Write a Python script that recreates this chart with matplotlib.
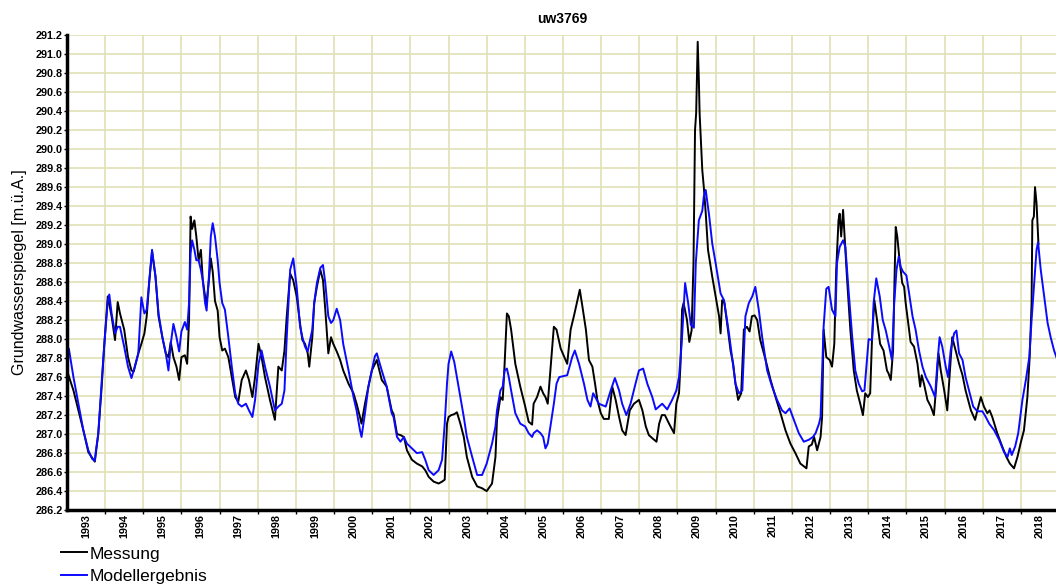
import numpy as np
import matplotlib
matplotlib.use("Agg")
import matplotlib.pyplot as plt
from matplotlib.ticker import MultipleLocator, FixedLocator, NullFormatter

plt.rcParams['font.family'] = ['Liberation Sans', 'DejaVu Sans']

# Messung (Zeit in Dezimaljahren, Wasserstand m.ü.A.)
mess_t = [1993.00, 1993.17, 1993.43, 1993.56, 1993.73, 1993.82, 1993.91, 1993.98, 1994.07, 1994.17,
          1994.26, 1994.33, 1994.39, 1994.50, 1994.60, 1994.69, 1994.75, 1994.87, 1994.95, 1995.03,
          1995.09, 1995.16, 1995.23, 1995.32, 1995.40, 1995.50, 1995.59, 1995.66, 1995.72, 1995.79,
          1995.87, 1995.94, 1996.00, 1996.09, 1996.15, 1996.20, 1996.24, 1996.28, 1996.34, 1996.39,
          1996.45, 1996.51, 1996.56, 1996.62, 1996.66, 1996.72, 1996.77, 1996.82, 1996.88, 1996.95,
          1997.00, 1997.07, 1997.14, 1997.23, 1997.32, 1997.41, 1997.49, 1997.58, 1997.69, 1997.77,
          1997.86, 1997.93, 1998.02, 1998.10, 1998.19, 1998.32, 1998.45, 1998.54, 1998.63, 1998.70,
          1998.76, 1998.85, 1998.93, 1999.02, 1999.11, 1999.17, 1999.24, 1999.31, 1999.35, 1999.43,
          1999.48, 1999.55, 1999.64, 1999.71, 1999.77, 1999.85, 1999.92, 1999.98, 2000.07, 2000.16,
          2000.24, 2000.38, 2000.51, 2000.59, 2000.68, 2000.72, 2000.81, 2000.90, 2000.99, 2001.12,
          2001.25, 2001.38, 2001.51, 2001.56, 2001.65, 2001.74, 2001.83, 2001.91, 2002.04, 2002.17,
          2002.31, 2002.39, 2002.48, 2002.61, 2002.74, 2002.83, 2002.90, 2002.96, 2003.00, 2003.07,
          2003.15, 2003.22, 2003.31, 2003.40, 2003.48, 2003.62, 2003.75, 2003.88, 2004.00, 2004.14,
          2004.23, 2004.27, 2004.36, 2004.42, 2004.47, 2004.53, 2004.58, 2004.64, 2004.75, 2004.88,
          2005.01, 2005.10, 2005.19, 2005.23, 2005.32, 2005.41, 2005.48, 2005.54, 2005.60, 2005.67,
          2005.76, 2005.83, 2005.94, 2006.11, 2006.20, 2006.29, 2006.38, 2006.44, 2006.51, 2006.60,
          2006.68, 2006.77, 2006.84, 2006.90, 2006.99, 2007.07, 2007.20, 2007.29, 2007.38, 2007.47,
          2007.55, 2007.64, 2007.75, 2007.86, 2007.99, 2008.08, 2008.17, 2008.25, 2008.36, 2008.45,
          2008.52, 2008.59, 2008.67, 2008.78, 2008.91, 2008.97, 2009.04, 2009.08, 2009.12, 2009.16,
          2009.25, 2009.31, 2009.37, 2009.42, 2009.46, 2009.49, 2009.53, 2009.56, 2009.58, 2009.65,
          2009.69, 2009.74, 2009.80, 2009.91, 2010.00, 2010.09, 2010.13, 2010.17, 2010.23, 2010.30,
          2010.39, 2010.46, 2010.52, 2010.59, 2010.67, 2010.74, 2010.82, 2010.89, 2010.95, 2011.02,
          2011.09, 2011.17, 2011.31, 2011.44, 2011.57, 2011.70, 2011.83, 2011.96, 2012.09, 2012.22,
          2012.38, 2012.44, 2012.52, 2012.58, 2012.66, 2012.75, 2012.79, 2012.83, 2012.90, 2012.99,
          2013.05, 2013.11, 2013.16, 2013.22, 2013.25, 2013.29, 2013.34, 2013.37, 2013.44, 2013.53,
          2013.62, 2013.70, 2013.79, 2013.86, 2013.92, 2013.99, 2014.05, 2014.10, 2014.16, 2014.23,
          2014.31, 2014.40, 2014.49, 2014.53, 2014.59, 2014.65, 2014.69, 2014.72, 2014.76, 2014.82,
          2014.89, 2014.94, 2014.98, 2015.05, 2015.11, 2015.20, 2015.29, 2015.36, 2015.40, 2015.46,
          2015.55, 2015.64, 2015.72, 2015.78, 2015.84, 2015.90, 2015.99, 2016.07, 2016.13, 2016.20,
          2016.29, 2016.38, 2016.47, 2016.55, 2016.69, 2016.80, 2016.86, 2016.95, 2017.03, 2017.12,
          2017.18, 2017.25, 2017.38, 2017.51, 2017.62, 2017.71, 2017.82, 2017.91, 2017.99, 2018.08,
          2018.17, 2018.23, 2018.28, 2018.30, 2018.34, 2018.37, 2018.41, 2018.44, 2018.46]
mess_v = [287.67, 287.46, 287.04, 286.81, 286.71, 287.00, 287.50, 287.95, 288.45, 288.24,
          287.99, 288.39, 288.27, 288.10, 287.81, 287.67, 287.66, 287.85, 287.95, 288.06,
          288.24, 288.62, 288.92, 288.66, 288.24, 288.02, 287.85, 287.81, 287.97, 287.81,
          287.71, 287.57, 287.81, 287.83, 287.74, 288.20, 289.29, 289.16, 289.25, 289.08,
          288.83, 288.94, 288.62, 288.45, 288.38, 288.62, 288.85, 288.71, 288.40, 288.30,
          288.02, 287.88, 287.90, 287.81, 287.60, 287.39, 287.34, 287.57, 287.67, 287.57,
          287.39, 287.60, 287.95, 287.81, 287.60, 287.36, 287.15, 287.71, 287.67, 287.88,
          288.24, 288.69, 288.62, 288.45, 288.16, 287.99, 287.95, 287.85, 287.71, 288.02,
          288.38, 288.55, 288.73, 288.62, 288.31, 287.85, 288.02, 287.95, 287.87, 287.78,
          287.67, 287.53, 287.43, 287.32, 287.18, 287.11, 287.32, 287.50, 287.67, 287.78,
          287.57, 287.50, 287.25, 287.21, 287.00, 286.99, 286.97, 286.83, 286.73, 286.69,
          286.66, 286.62, 286.55, 286.50, 286.48, 286.50, 286.52, 287.11, 287.18, 287.20,
          287.21, 287.23, 287.11, 286.97, 286.76, 286.55, 286.45, 286.43, 286.40, 286.48,
          286.76, 287.15, 287.39, 287.36, 287.74, 288.27, 288.24, 288.10, 287.74, 287.50,
          287.29, 287.13, 287.10, 287.32, 287.39, 287.50, 287.43, 287.39, 287.32, 287.67,
          288.13, 288.10, 287.90, 287.74, 288.10, 288.25, 288.41, 288.52, 288.34, 288.10,
          287.78, 287.71, 287.53, 287.36, 287.22, 287.16, 287.16, 287.50, 287.36, 287.18,
          287.04, 286.99, 287.25, 287.32, 287.36, 287.25, 287.08, 286.99, 286.95, 286.92,
          287.11, 287.20, 287.20, 287.11, 287.01, 287.32, 287.43, 287.74, 288.31, 288.38,
          288.20, 287.97, 288.09, 288.80, 290.20, 290.38, 291.13, 290.73, 290.38, 289.78,
          289.60, 289.33, 288.94, 288.66, 288.45, 288.24, 288.06, 288.41, 288.38, 288.17,
          287.88, 287.74, 287.53, 287.36, 287.43, 288.10, 288.13, 288.08, 288.24, 288.25,
          288.20, 287.99, 287.78, 287.57, 287.39, 287.22, 287.04, 286.90, 286.80, 286.69,
          286.64, 286.87, 286.89, 286.97, 286.83, 286.97, 287.18, 288.10, 287.81, 287.78,
          287.71, 287.95, 288.73, 289.25, 289.32, 289.08, 289.36, 289.15, 288.66, 288.10,
          287.67, 287.46, 287.32, 287.20, 287.43, 287.39, 287.43, 288.02, 288.41, 288.20,
          287.95, 287.88, 287.67, 287.64, 287.57, 287.88, 288.66, 289.18, 289.08, 288.83,
          288.59, 288.55, 288.38, 288.16, 287.97, 287.92, 287.74, 287.50, 287.62, 287.53,
          287.36, 287.29, 287.20, 287.50, 287.85, 287.67, 287.46, 287.25, 287.60, 288.02,
          287.88, 287.74, 287.62, 287.46, 287.25, 287.15, 287.25, 287.39, 287.29, 287.22,
          287.25, 287.18, 287.01, 286.87, 286.76, 286.69, 286.64, 286.76, 286.90, 287.04,
          287.39, 287.81, 288.38, 289.25, 289.29, 289.60, 289.43, 289.18, 289.00]

# Modellergebnis
mod_t = [1993.00, 1993.05, 1993.17, 1993.43, 1993.56, 1993.66, 1993.73, 1993.76, 1993.82, 1993.91,
         1993.98, 1994.07, 1994.11, 1994.17, 1994.26, 1994.33, 1994.39, 1994.50, 1994.60, 1994.69,
         1994.75, 1994.87, 1994.95, 1995.03, 1995.09, 1995.16, 1995.23, 1995.32, 1995.40, 1995.50,
         1995.59, 1995.66, 1995.72, 1995.79, 1995.87, 1995.94, 1996.00, 1996.09, 1996.15, 1996.20,
         1996.24, 1996.28, 1996.34, 1996.39, 1996.45, 1996.51, 1996.56, 1996.62, 1996.66, 1996.72,
         1996.77, 1996.82, 1996.88, 1996.95, 1997.00, 1997.07, 1997.14, 1997.23, 1997.32, 1997.41,
         1997.49, 1997.58, 1997.69, 1997.77, 1997.86, 1997.93, 1998.02, 1998.10, 1998.19, 1998.32,
         1998.45, 1998.54, 1998.63, 1998.70, 1998.76, 1998.85, 1998.93, 1999.02, 1999.11, 1999.17,
         1999.24, 1999.31, 1999.35, 1999.43, 1999.48, 1999.55, 1999.64, 1999.71, 1999.77, 1999.85,
         1999.92, 1999.98, 2000.07, 2000.16, 2000.24, 2000.38, 2000.51, 2000.59, 2000.68, 2000.72,
         2000.81, 2000.90, 2000.99, 2001.07, 2001.12, 2001.25, 2001.38, 2001.51, 2001.56, 2001.65,
         2001.74, 2001.83, 2001.91, 2002.04, 2002.17, 2002.31, 2002.39, 2002.48, 2002.61, 2002.74,
         2002.83, 2002.90, 2002.96, 2003.00, 2003.07, 2003.15, 2003.22, 2003.31, 2003.40, 2003.48,
         2003.62, 2003.75, 2003.88, 2004.00, 2004.14, 2004.23, 2004.27, 2004.36, 2004.42, 2004.47,
         2004.53, 2004.58, 2004.64, 2004.75, 2004.88, 2005.01, 2005.10, 2005.19, 2005.23, 2005.32,
         2005.41, 2005.48, 2005.54, 2005.60, 2005.67, 2005.76, 2005.83, 2005.90, 2006.11, 2006.24,
         2006.31, 2006.42, 2006.55, 2006.64, 2006.72, 2006.79, 2006.94, 2007.12, 2007.25, 2007.36,
         2007.47, 2007.55, 2007.66, 2007.77, 2007.90, 2007.99, 2008.10, 2008.21, 2008.34, 2008.43,
         2008.60, 2008.73, 2008.86, 2008.97, 2009.04, 2009.11, 2009.20, 2009.28, 2009.35, 2009.43,
         2009.48, 2009.56, 2009.65, 2009.69, 2009.74, 2009.83, 2009.91, 2010.00, 2010.13, 2010.22,
         2010.35, 2010.44, 2010.52, 2010.61, 2010.70, 2010.78, 2010.87, 2010.96, 2011.04, 2011.13,
         2011.22, 2011.35, 2011.48, 2011.61, 2011.74, 2011.83, 2011.94, 2012.05, 2012.18, 2012.31,
         2012.44, 2012.55, 2012.62, 2012.71, 2012.75, 2012.83, 2012.90, 2012.96, 2013.05, 2013.14,
         2013.18, 2013.25, 2013.34, 2013.40, 2013.49, 2013.58, 2013.66, 2013.75, 2013.84, 2013.90,
         2013.97, 2014.01, 2014.10, 2014.14, 2014.21, 2014.30, 2014.38, 2014.46, 2014.55, 2014.62,
         2014.68, 2014.74, 2014.80, 2014.85, 2014.91, 2015.00, 2015.07, 2015.16, 2015.24, 2015.33,
         2015.42, 2015.51, 2015.64, 2015.75, 2015.81, 2015.87, 2015.94, 2016.03, 2016.09, 2016.16,
         2016.25, 2016.31, 2016.38, 2016.47, 2016.55, 2016.64, 2016.75, 2016.86, 2016.99, 2017.08,
         2017.17, 2017.30, 2017.43, 2017.56, 2017.65, 2017.71, 2017.76, 2017.85, 2017.93, 2018.04,
         2018.13, 2018.22, 2018.28, 2018.35, 2018.41, 2018.45, 2018.52, 2018.61, 2018.70, 2018.78,
         2018.87, 2018.94]
mod_v = [287.87, 287.90, 287.60, 287.04, 286.83, 286.74, 286.72, 286.83, 287.00, 287.55,
         287.95, 288.40, 288.47, 288.27, 288.06, 288.13, 288.13, 287.92, 287.71, 287.59,
         287.67, 287.85, 288.44, 288.27, 288.31, 288.62, 288.94, 288.66, 288.27, 288.02,
         287.85, 287.67, 287.95, 288.16, 288.02, 287.87, 288.08, 288.18, 288.10, 288.38,
         288.90, 289.04, 288.94, 288.83, 288.83, 288.73, 288.62, 288.38, 288.30, 288.66,
         289.08, 289.22, 289.08, 288.83, 288.59, 288.38, 288.31, 288.02, 287.71, 287.43,
         287.32, 287.29, 287.32, 287.25, 287.18, 287.36, 287.74, 287.88, 287.71, 287.50,
         287.25, 287.29, 287.32, 287.46, 288.02, 288.73, 288.85, 288.55, 288.13, 288.02,
         287.92, 287.87, 287.95, 288.10, 288.38, 288.59, 288.75, 288.78, 288.59, 288.24,
         288.17, 288.20, 288.32, 288.20, 287.95, 287.67, 287.39, 287.25, 287.04, 286.97,
         287.22, 287.50, 287.67, 287.82, 287.85, 287.67, 287.50, 287.22, 287.18, 286.97,
         286.92, 286.97, 286.90, 286.85, 286.80, 286.81, 286.73, 286.62, 286.57, 286.62,
         286.73, 287.11, 287.53, 287.74, 287.87, 287.76, 287.60, 287.39, 287.18, 286.97,
         286.76, 286.57, 286.57, 286.69, 286.90, 287.08, 287.25, 287.46, 287.50, 287.67,
         287.69, 287.60, 287.46, 287.22, 287.11, 287.08, 287.01, 286.97, 287.01, 287.04,
         287.01, 286.97, 286.85, 286.90, 287.08, 287.32, 287.53, 287.60, 287.62, 287.81,
         287.88, 287.74, 287.53, 287.36, 287.29, 287.43, 287.32, 287.29, 287.46, 287.59,
         287.46, 287.32, 287.20, 287.32, 287.53, 287.67, 287.69, 287.53, 287.39, 287.26,
         287.32, 287.26, 287.36, 287.46, 287.60, 287.95, 288.59, 288.38, 288.15, 288.12,
         288.80, 289.25, 289.35, 289.50, 289.57, 289.30, 289.01, 288.80, 288.48, 288.41,
         288.06, 287.78, 287.53, 287.43, 287.46, 288.24, 288.38, 288.45, 288.55, 288.31,
         288.02, 287.67, 287.50, 287.36, 287.25, 287.22, 287.27, 287.15, 287.01, 286.92,
         286.94, 286.97, 287.01, 287.11, 287.18, 288.13, 288.53, 288.55, 288.31, 288.24,
         288.80, 288.97, 289.04, 288.97, 288.48, 288.02, 287.67, 287.53, 287.45, 287.46,
         287.81, 288.00, 287.99, 288.38, 288.64, 288.45, 288.20, 288.09, 287.92, 287.78,
         288.38, 288.73, 288.87, 288.76, 288.71, 288.67, 288.48, 288.24, 288.10, 287.88,
         287.71, 287.60, 287.50, 287.39, 287.74, 288.02, 287.92, 287.71, 287.60, 287.88,
         288.06, 288.09, 287.85, 287.78, 287.60, 287.46, 287.29, 287.24, 287.24, 287.18,
         287.11, 287.04, 286.94, 286.81, 286.76, 286.85, 286.78, 286.87, 287.01, 287.36,
         287.57, 287.81, 288.20, 288.59, 288.94, 289.02, 288.73, 288.45, 288.17, 288.02,
         287.88, 287.80]

jahre = list(range(1993, 2019))

fig = plt.figure(figsize=(10.56, 5.85), dpi=100)
ax = fig.add_axes([0.0634, 0.128, 0.9366, 0.812])

ax.plot(mess_t, mess_v, color='black', lw=1.4, label='Messung')
ax.plot(mod_t, mod_v, color='#0a0aff', lw=1.4, label='Modellergebnis')

ax.set_xlim(1993.0, 2018.92)
ax.set_ylim(286.2, 291.2)

# Jahresgrenzen als Gitter, Jahreszahlen in der Jahresmitte
ax.xaxis.set_major_locator(FixedLocator(np.arange(1994, 2019)))
ax.xaxis.set_major_formatter(NullFormatter())
ax.xaxis.set_minor_locator(FixedLocator([j + 0.5 for j in jahre]))
ax.set_xticklabels([str(j) for j in jahre], minor=True, rotation=90,
                   fontsize=7.8, fontweight='bold')
ax.tick_params(axis='x', which='minor', length=0, pad=3)
ax.tick_params(axis='x', which='major', length=3, width=1)

ax.yaxis.set_major_locator(MultipleLocator(0.2))
ax.yaxis.set_major_formatter(matplotlib.ticker.FormatStrFormatter('%.1f'))
ax.tick_params(axis='y', length=2, width=1, pad=1, labelsize=7.8)
for lab in ax.get_yticklabels():
    lab.set_fontweight('bold')

ax.grid(True, which='major', color='#e0e0b6', lw=1.2)
ax.set_axisbelow(True)

for s in ['top', 'right']:
    ax.spines[s].set_visible(False)
ax.spines['left'].set_linewidth(2.5)
ax.spines['bottom'].set_linewidth(2.5)

ax.set_ylabel('Grundwasserspiegel [m.ü.A.]', fontsize=11.5, labelpad=6)
fig.text(0.532, 0.968, 'uw3769', ha='center', va='center', fontsize=10, fontweight='bold')

fig.legend(loc='upper left', bbox_to_anchor=(0.058, 0.066), frameon=False,
           fontsize=12.5, handlelength=1.5, handletextpad=0.15, labelspacing=0.4,
           borderpad=0, borderaxespad=0)

fig.savefig('out.png', dpi=100)
